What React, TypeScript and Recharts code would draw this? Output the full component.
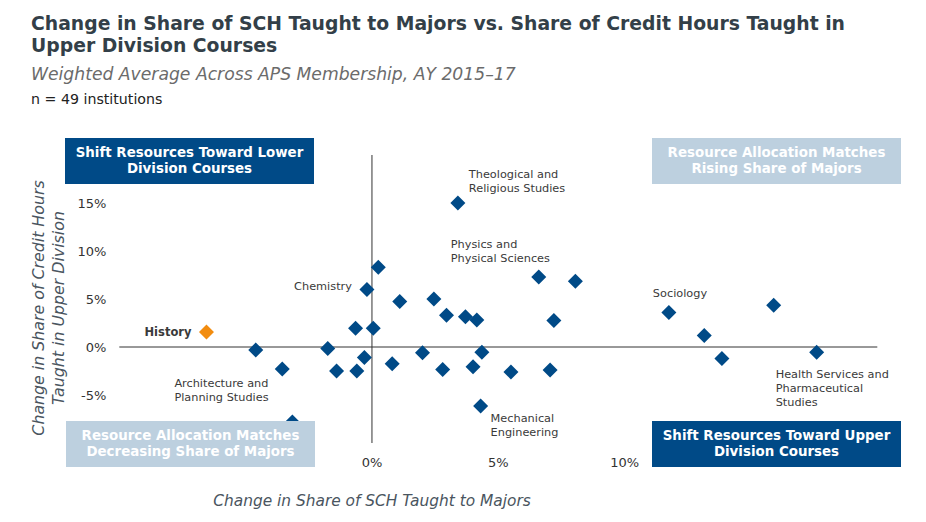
import React from 'react';
import { ScatterChart, Scatter, XAxis, YAxis, ReferenceLine } from 'recharts';

// change in share of SCH taught to majors (%), one entry per discipline
const schShare = [
  3.4, 0.25, -0.2, 1.1, 2.45, 2.95, 3.7, 4.15, 6.6, 8.05, 7.2,
  -0.65, 0.05, -1.75, -0.3, -1.4, -0.6, 0.8, 2.0, 2.8, 4.0, 4.35,
  5.5, 7.05, 4.3, -4.6, -3.55, -3.15, 11.75, 13.15, 13.85, 15.9, 17.6,
];
// change in share of credit hours taught in upper division (%)
const upperShare = [
  15.0, 8.3, 6.0, 4.75, 5.0, 3.3, 3.15, 2.8, 7.3, 6.85, 2.75,
  1.95, 1.95, -0.15, -1.1, -2.5, -2.5, -1.75, -0.6, -2.35, -2.05, -0.55,
  -2.6, -2.4, -6.15, -0.3, -2.3, -7.8, 3.6, 1.2, -1.2, 4.35, -0.55,
];
const historyX = [-6.55];
const historyY = [1.55];

const xTicks = [0, 5, 10];
const yTicks = [-5, 0, 5, 10, 15];

// named points: index -> label lines
const pointNames: Record<number, string[]> = {
  0: ['Theological and', 'Religious Studies'],
  2: ['Chemistry'],
  8: ['Physics and', 'Physical Sciences'],
  24: ['Mechanical', 'Engineering'],
  27: ['Architecture and', 'Planning Studies'],
  28: ['Sociology'],
  32: ['Health Services and', 'Pharmaceutical', 'Studies'],
};

// label placement relative to the marker (px)
const labelOffsets: Record<number, { dx: number; dy: number; anchor: string }> = {
  0: { dx: 11, dy: -29, anchor: 'start' },
  2: { dx: -15, dy: -3, anchor: 'end' },
  8: { dx: -88, dy: -32, anchor: 'start' },
  24: { dx: 10, dy: 12, anchor: 'start' },
  27: { dx: -118, dy: -38, anchor: 'start' },
  28: { dx: -16, dy: -19, anchor: 'start' },
  32: { dx: -41, dy: 22, anchor: 'start' },
};

const mainData = schShare.map((x, i) => ({ x, y: upperShare[i], idx: i }));
const historyData = historyX.map((x, i) => ({ x, y: historyY[i], name: 'History' }));

const DARK = '#004a87';
const LIGHT = '#bdd0df';
const ORANGE = '#f28c0f';
const TEXT = '#333f48';
const FONT = '"DejaVu Sans", Verdana, sans-serif';

const Diamond = ({ cx, cy, fill }: any) => (
  <polygon
    points={`${cx},${cy - 7.5} ${cx + 7.5},${cy} ${cx},${cy + 7.5} ${cx - 7.5},${cy}`}
    fill={fill}
  />
);

const MainShape = (props: any) => {
  const { cx, cy, payload } = props;
  const lines = pointNames[payload.idx];
  const off = labelOffsets[payload.idx];
  return (
    <g>
      <Diamond cx={cx} cy={cy} fill={DARK} />
      {lines && off && lines.map((t, k) => (
        <text
          key={k}
          x={cx + off.dx}
          y={cy + off.dy + k * 14}
          textAnchor={off.anchor as any}
          dominantBaseline="central"
          fontSize={11.3}
          fontFamily={FONT}
          fill="#3a3a3a"
        >
          {t}
        </text>
      ))}
    </g>
  );
};

const HistoryShape = (props: any) => {
  const { cx, cy, payload } = props;
  return (
    <g>
      <Diamond cx={cx} cy={cy} fill={ORANGE} />
      <text x={cx - 15} y={cy} textAnchor="end" dominantBaseline="central"
        fontSize={11.5} fontWeight="bold" fontFamily={FONT} fill="#3a3a3a">
        {payload.name}
      </text>
    </g>
  );
};

const boxStyle = (bg: string): React.CSSProperties => ({
  position: 'absolute',
  width: 249,
  height: 46,
  background: bg,
  color: '#fff',
  fontFamily: FONT,
  fontWeight: 'bold',
  fontSize: 13.4,
  lineHeight: '16px',
  textAlign: 'center',
  display: 'flex',
  alignItems: 'center',
  justifyContent: 'center',
});

export default function App() {
  return (
    <div style={{ position: 'relative', width: 926, height: 522, background: '#fff', fontFamily: FONT, overflow: 'hidden' }}>
      <style>{`body{margin:0}`}</style>
      <ScatterChart
        width={926}
        height={522}
        margin={{ top: 155, right: 48.7, bottom: 49, left: 59.3 }}
        style={{ position: 'absolute', left: 0, top: 0 }}
      >
        <XAxis
          type="number"
          dataKey="x"
          domain={[-10, 20]}
          ticks={xTicks}
          tickFormatter={(v) => `${v}%`}
          axisLine={false}
          tickLine={false}
          tickMargin={8.5}
          height={30}
          tick={{ fontSize: 13, fill: '#333', fontFamily: FONT }}
        />
        <YAxis
          type="number"
          dataKey="y"
          domain={[-10, 20]}
          ticks={yTicks}
          tickFormatter={(v) => `${v}%`}
          axisLine={false}
          tickLine={false}
          tickMargin={7}
          width={60}
          tick={{ fontSize: 13, fill: '#333', fontFamily: FONT }}
        />
        <ReferenceLine x={0} stroke="#333" strokeWidth={1} />
        <ReferenceLine y={0} stroke="#333" strokeWidth={1} />
        <Scatter data={mainData} shape={MainShape} isAnimationActive={false} />
        <Scatter data={historyData} shape={HistoryShape} isAnimationActive={false} />
      </ScatterChart>

      <div style={{ position: 'absolute', left: 31, top: 13, fontSize: 18.8, fontWeight: 'bold', color: TEXT, lineHeight: '22px', whiteSpace: 'nowrap' }}>
        Change in Share of SCH Taught to Majors vs. Share of Credit Hours Taught in<br />Upper Division Courses
      </div>
      <div style={{ position: 'absolute', left: 31, top: 64, fontSize: 17.2, fontStyle: 'italic', color: '#6b6b6b', whiteSpace: 'nowrap' }}>
        Weighted Average Across APS Membership, AY 2015–17
      </div>
      <div style={{ position: 'absolute', left: 31, top: 91, fontSize: 14.2, color: '#222', whiteSpace: 'nowrap' }}>
        n = 49 institutions
      </div>

      <div style={{ ...boxStyle(DARK), left: 65, top: 138 }}>Shift Resources Toward Lower<br />Division Courses</div>
      <div style={{ ...boxStyle(LIGHT), left: 652, top: 138 }}>Resource Allocation Matches<br />Rising Share of Majors</div>
      <div style={{ ...boxStyle(LIGHT), left: 66, top: 421 }}>Resource Allocation Matches<br />Decreasing Share of Majors</div>
      <div style={{ ...boxStyle(DARK), left: 652, top: 421 }}>Shift Resources Toward Upper<br />Division Courses</div>

      <div style={{
        position: 'absolute', left: 49, top: 308, width: 0, height: 0,
      }}>
        <div style={{
          position: 'absolute', left: 0, top: 0, transform: 'translate(-50%, -50%) rotate(-90deg)',
          fontSize: 15.8, fontStyle: 'italic', color: '#4a5560', textAlign: 'center', whiteSpace: 'nowrap', lineHeight: '20px',
        }}>
          Change in Share of Credit Hours<br />Taught in Upper Division
        </div>
      </div>
      <div style={{ position: 'absolute', left: 372, top: 501, width: 0, height: 0 }}>
        <div style={{
          position: 'absolute', left: 0, top: 0, transform: 'translate(-50%, -50%)',
          fontSize: 15.4, fontStyle: 'italic', color: '#4a5560', whiteSpace: 'nowrap',
        }}>
          Change in Share of SCH Taught to Majors
        </div>
      </div>
    </div>
  );
}
